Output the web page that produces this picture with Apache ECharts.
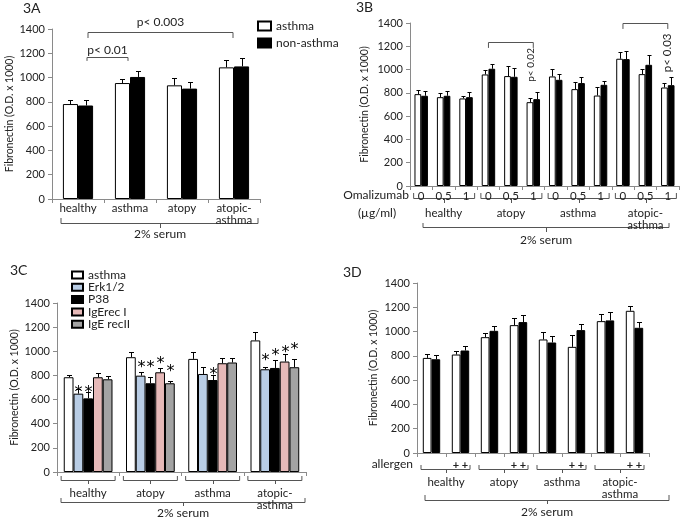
<!DOCTYPE html>
<html><head><meta charset="utf-8">
<script src="https://cdn.jsdelivr.net/npm/echarts@6/dist/echarts.min.js"></script>
<style>html,body{margin:0;padding:0;background:#fff}#c{width:683px;height:518px}</style>
</head><body><div id="c"></div>
<script>
const FONT = 'Lato, "Liberation Sans", sans-serif';
// ---------- Panel 3A ----------
const catsA = ['healthy', 'asthma', 'atopy', 'atopic-\nasthma'];
const aAsthma = [782, 955, 936, 1084];
const aAsthmaErr = [36, 33, 60, 58];
const aNon = [770, 1005, 909, 1092];
const aNonErr = [48, 46, 54, 66];
// ---------- Panel 3B ----------
const dosesB = ['0', '0.5', '1', '0', '0.5', '1', '0', '0.5', '1', '0', '0.5', '1'];
const groupsB = ['healthy', 'atopy', 'asthma', 'atopic-\nasthma'];
const bAsthma = [789, 763, 752, 958, 944, 720, 941, 832, 777, 1093, 961, 846];
const bAsthmaErr = [37, 34, 17, 35, 83, 40, 66, 57, 72, 57, 43, 38];
const bNon = [775, 775, 763, 1007, 938, 746, 912, 884, 869, 1090, 1041, 866];
const bNonErr = [45, 43, 43, 43, 75, 63, 52, 51, 37, 66, 81, 66];
// ---------- Panel 3C ----------
const groupsC = ['healthy', 'atopy', 'asthma', 'atopic-\nasthma'];
const cAsthma = [785, 951, 937, 1090];
const cAsthmaErr = [19, 39, 56, 66];
const cErk = [649, 798, 812, 851];
const cErkErr = [36, 28, 61, 22];
const cP38 = [610, 735, 762, 862];
const cP38Err = [50, 50, 42, 67];
const cIgE1 = [785, 826, 901, 915];
const cIgE1Err = [38, 33, 42, 61];
const cIgE2 = [768, 735, 907, 868];
const cIgE2Err = [30, 22, 38, 66];
// asterisk heights (value units), 0 = no asterisk
const cAsthmaStar = [0, 0, 0, 0];
const cErkStar = [685, 892, 0, 950];
const cP38Star = [685, 892, 834, 992];
const cIgE1Star = [0, 925, 0, 1017];
const cIgE2Star = [0, 859, 0, 1041];
// ---------- Panel 3D ----------
const allergenD = ['', '+ +', '', '+ +', '', '+ +', '', '+ +'];
const groupsD = ['healthy', 'atopy', 'asthma', 'atopic-\nasthma'];
const dAsthma = [783, 811, 954, 1053, 935, 874, 1086, 1171];
const dAsthmaErr = [36, 27, 35, 55, 63, 96, 58, 41];
const dNon = [772, 844, 1006, 1078, 910, 1012, 1092, 1031];
const dNonErr = [39, 35, 44, 55, 52, 49, 66, 44];

const AX = '#8a8a8a', INK = '#222', LINE = '#555';

function yAx(gi, nameGap) {
  return {type: 'value', gridIndex: gi, min: 0, max: 1400, interval: 200,
    name: 'Fibronectin (O.D. x 1000)', nameLocation: 'middle', nameGap: nameGap, nameRotate: 90,
    nameTextStyle: {fontFamily: FONT, fontSize: 10.5, color: INK},
    axisLine: {show: true, lineStyle: {color: AX}},
    axisTick: {show: true, length: 4, lineStyle: {color: AX}},
    splitLine: {show: false},
    axisLabel: {fontFamily: FONT, fontSize: 11, color: INK, margin: 7, formatter: v => String(v)}};
}
function xAx(gi, data, extra) {
  const o = {type: 'category', gridIndex: gi, data: data, position: 'bottom',
    axisLine: {show: true, lineStyle: {color: AX}},
    axisTick: {show: true, length: 4, interval: 0, lineStyle: {color: AX}},
    axisLabel: {interval: 0, fontFamily: FONT, fontSize: 11.5, color: INK, margin: 3, lineHeight: 12},
    splitLine: {show: false}};
  if (extra) {
    for (const k in extra) {
      if (typeof extra[k] === 'object' && o[k]) o[k] = Object.assign({}, o[k], extra[k]);
      else o[k] = extra[k];
    }
  }
  return o;
}
function bar(name, xi, yi, data, color, gap) {
  return {type: 'bar', name: name, xAxisIndex: xi, yAxisIndex: yi, data: data,
    barGap: 0, barCategoryGap: (gap * 100) + '%', silent: true,
    itemStyle: {color: color, borderColor: '#000', borderWidth: 1}};
}
function err(xi, yi, vals, errs, n, i, gap, stars) {
  return {type: 'custom', xAxisIndex: xi, yAxisIndex: yi, silent: true, z: 4,
    data: vals.map((v, k) => [k, v, errs[k], stars ? stars[k] : 0]),
    encode: {x: 0, y: 1},
    renderItem: function (params, api) {
      const k = api.value(0), v = api.value(1), e = api.value(2), s = api.value(3);
      const p0 = api.coord([k, v]), p1 = api.coord([k, v + e]);
      const band = api.size([1, 0])[0];
      const bw = band * (1 - gap) / n;
      const cx = Math.round(p0[0] - band * (1 - gap) / 2 + bw * (i + 0.5)) + 0.5;
      const cap = Math.min(5, bw * 0.6);
      const ty = Math.round(p1[1]) + 0.5;
      const ch = [
        {type: 'line', shape: {x1: cx, y1: p0[1], x2: cx, y2: ty}, style: {stroke: '#000', lineWidth: 1}},
        {type: 'line', shape: {x1: cx - cap / 2, y1: ty, x2: cx + cap / 2, y2: ty}, style: {stroke: '#000', lineWidth: 1}}
      ];
      if (s) {
        const ps = api.coord([k, s]);
        ch.push({type: 'text', style: {text: '*', x: cx, y: ps[1] + 4, align: 'center', verticalAlign: 'middle',
          fontFamily: '"DejaVu Sans", sans-serif', fontSize: 16, fill: '#000'}});
      }
      return {type: 'group', children: ch};
    }};
}

const gA = 0.42, gB = 0.40, gC = 0.217, gD = 0.40;
const option = {
  animation: false,
  backgroundColor: '#fff',
  textStyle: {fontFamily: FONT},
  grid: [
    {left: 52, top: 29, width: 208, height: 170, containLabel: false, outerBoundsMode: 'none'},
    {left: 410, top: 23, width: 269, height: 163, containLabel: false, outerBoundsMode: 'none'},
    {left: 57, top: 303, width: 249, height: 169, containLabel: false, outerBoundsMode: 'none'},
    {left: 417, top: 283, width: 232, height: 170, containLabel: false, outerBoundsMode: 'none'}
  ],
  xAxis: [
    xAx(0, catsA),
    xAx(1, dosesB, {axisLabel: {margin: 4}}),
    xAx(1, groupsB, {offset: 18, axisLine: {show: false}, axisTick: {show: false}}),
    xAx(2, groupsC, {axisLabel: {margin: 15}}),
    xAx(3, allergenD, {axisLabel: {margin: 6, fontWeight: 'bold', fontSize: 11}}),
    xAx(3, groupsD, {offset: 20, axisLine: {show: false}, axisTick: {show: false}})
  ],
  yAxis: [yAx(0, 33), yAx(1, 40), yAx(2, 35), yAx(3, 38)],
  legend: [
    {data: ['asthma', 'non-asthma'], orient: 'vertical', left: 252, top: 14, itemWidth: 13, itemHeight: 9,
      itemGap: 3, icon: 'rect', selectedMode: false,
      textStyle: {fontFamily: FONT, fontSize: 12, color: INK, lineHeight: 14}},
    {data: ['asthma', 'Erk1/2', 'P38', 'IgErec I', 'IgE recII'], orient: 'vertical', left: 66, top: 264,
      itemWidth: 11, itemHeight: 7, itemGap: 0.3, icon: 'rect', selectedMode: false,
      textStyle: {fontFamily: FONT, fontSize: 12, color: INK, lineHeight: 12}}
  ],
  series: [
    bar('asthma', 0, 0, aAsthma, '#fff', gA), bar('non-asthma', 0, 0, aNon, '#000', gA),
    err(0, 0, aAsthma, aAsthmaErr, 2, 0, gA), err(0, 0, aNon, aNonErr, 2, 1, gA),

    bar('asthma', 1, 1, bAsthma, '#fff', gB), bar('non-asthma', 1, 1, bNon, '#000', gB),
    err(1, 1, bAsthma, bAsthmaErr, 2, 0, gB), err(1, 1, bNon, bNonErr, 2, 1, gB),

    bar('asthma', 3, 2, cAsthma, '#fff', gC), bar('Erk1/2', 3, 2, cErk, '#b9cde5', gC),
    bar('P38', 3, 2, cP38, '#000', gC), bar('IgErec I', 3, 2, cIgE1, '#e6b9b8', gC),
    bar('IgE recII', 3, 2, cIgE2, '#a3a3a3', gC),
    err(3, 2, cAsthma, cAsthmaErr, 5, 0, gC, cAsthmaStar), err(3, 2, cErk, cErkErr, 5, 1, gC, cErkStar),
    err(3, 2, cP38, cP38Err, 5, 2, gC, cP38Star), err(3, 2, cIgE1, cIgE1Err, 5, 3, gC, cIgE1Star),
    err(3, 2, cIgE2, cIgE2Err, 5, 4, gC, cIgE2Star),

    bar('asthma', 4, 3, dAsthma, '#fff', gD), bar('non-asthma', 4, 3, dNon, '#000', gD),
    err(4, 3, dAsthma, dAsthmaErr, 2, 0, gD), err(4, 3, dNon, dNonErr, 2, 1, gD)
  ]
};

const chart = echarts.init(document.getElementById('c'), null, {renderer: 'canvas'});
chart.setOption(option);

const X = (xi, v) => chart.convertToPixel({xAxisIndex: xi}, v);
const Y = (yi, v) => chart.convertToPixel({yAxisIndex: yi}, v);
function pl(points) {
  return {type: 'polyline', silent: true, shape: {points: points}, style: {stroke: LINE, lineWidth: 1, fill: 'none'}};
}
function bracket(x1, x2, yTop, yLeg) { return pl([[x1, yLeg], [x1, yTop], [x2, yTop], [x2, yLeg]]); }
function brace(x1, x2, y, yEnd, yTick) {
  const xc = Math.round((x1 + x2) / 2) + 0.5;
  return [pl([[x1, yEnd], [x1, y], [x2, y], [x2, yEnd]]), pl([[xc, y], [xc, yTick]])];
}
function txt(x, y, text, size, extra) {
  return Object.assign({type: 'text', x: x, y: y, silent: true,
    style: {text: text, fontFamily: FONT, fontSize: size, fill: INK, align: 'center', verticalAlign: 'middle'}}, extra || {});
}
function ltxt(x, y, text, size, align) {
  return {type: 'text', x: x, y: y, silent: true,
    style: {text: text, fontFamily: FONT, fontSize: size, fill: INK, align: align, verticalAlign: 'middle'}};
}
const g = [];
// titles
g.push(ltxt(23, 8, '3A', 14, 'left'));
g.push(ltxt(356, 7, '3B', 14, 'left'));
g.push(ltxt(10, 270, '3C', 14, 'left'));
g.push(ltxt(343, 272, '3D', 14, 'left'));

// 3A brackets
{
  const x1 = X(0, 0) + 10, x2 = X(0, 3) - 1;
  g.push(bracket(x1, x2, Math.round(Y(0, 1375)) + 0.5, Y(0, 1326)));
  g.push(txt((x1 + x2) / 2, Y(0, 1458), 'p< 0.003', 12));
  const x3 = X(0, 0) + 9, x4 = X(0, 1) - 2;
  g.push(bracket(x3, x4, Math.round(Y(0, 1170)) + 0.5, Y(0, 1137)));
  g.push(txt((x3 + x4) / 2, Y(0, 1227), 'p< 0.01', 12));
}
g.push(...brace(61, 258, 223.5, 218, 228));
g.push(txt(160, 234, '2% serum', 12));

// 3B brackets
{
  const x1 = X(1, 3), x2 = X(1, 5);
  g.push(bracket(x1, x2, Math.round(Y(1, 1237)) + 0.5, Y(1, 1186)));
  g.push(txt(x2 - 3, Y(1, 1040), 'p< 0.02', 10, {rotation: Math.PI / 2}));
  const x3 = X(1, 9), x4 = X(1, 11);
  g.push(bracket(x3, x4, Math.round(Y(1, 1400)) + 0.5, Y(1, 1349)));
  g.push(txt(x4, Y(1, 1143), 'p< 0.03', 11.5, {rotation: Math.PI / 2}));
}
for (let k = 0; k < groupsB.length; k++) {
  const c = X(2, k);
  g.push(...brace(c - 30, c + 31, 198.5, 193, 203));
}
g.push(...brace(423, 669, 227.5, 223, 232));
g.push(txt(546, 240, '2% serum', 12));
g.push(txt(376, 195, 'Omalizumab', 12));
g.push(txt(377, 213, '(µg/ml)', 12));

// 3C braces
for (let k = 0; k < groupsC.length; k++) {
  const c = X(3, k);
  g.push(...brace(c - 27, c + 27, 480.5, 476, 484));
}
g.push(...brace(61, 305, 502.5, 498, 506));
g.push(txt(183, 513, '2% serum', 12));

// 3D braces
for (let k = 0; k < groupsD.length; k++) {
  const c = X(5, k);
  g.push(...brace(c - 25, c + 24, 469.5, 465, 473));
}
g.push(...brace(425, 669, 500.5, 495, 504));
g.push(txt(547, 512, '2% serum', 12));
g.push(ltxt(413, 464, 'allergen', 12, 'right'));

chart.setOption({graphic: {elements: g}});
</script>
</body></html>
